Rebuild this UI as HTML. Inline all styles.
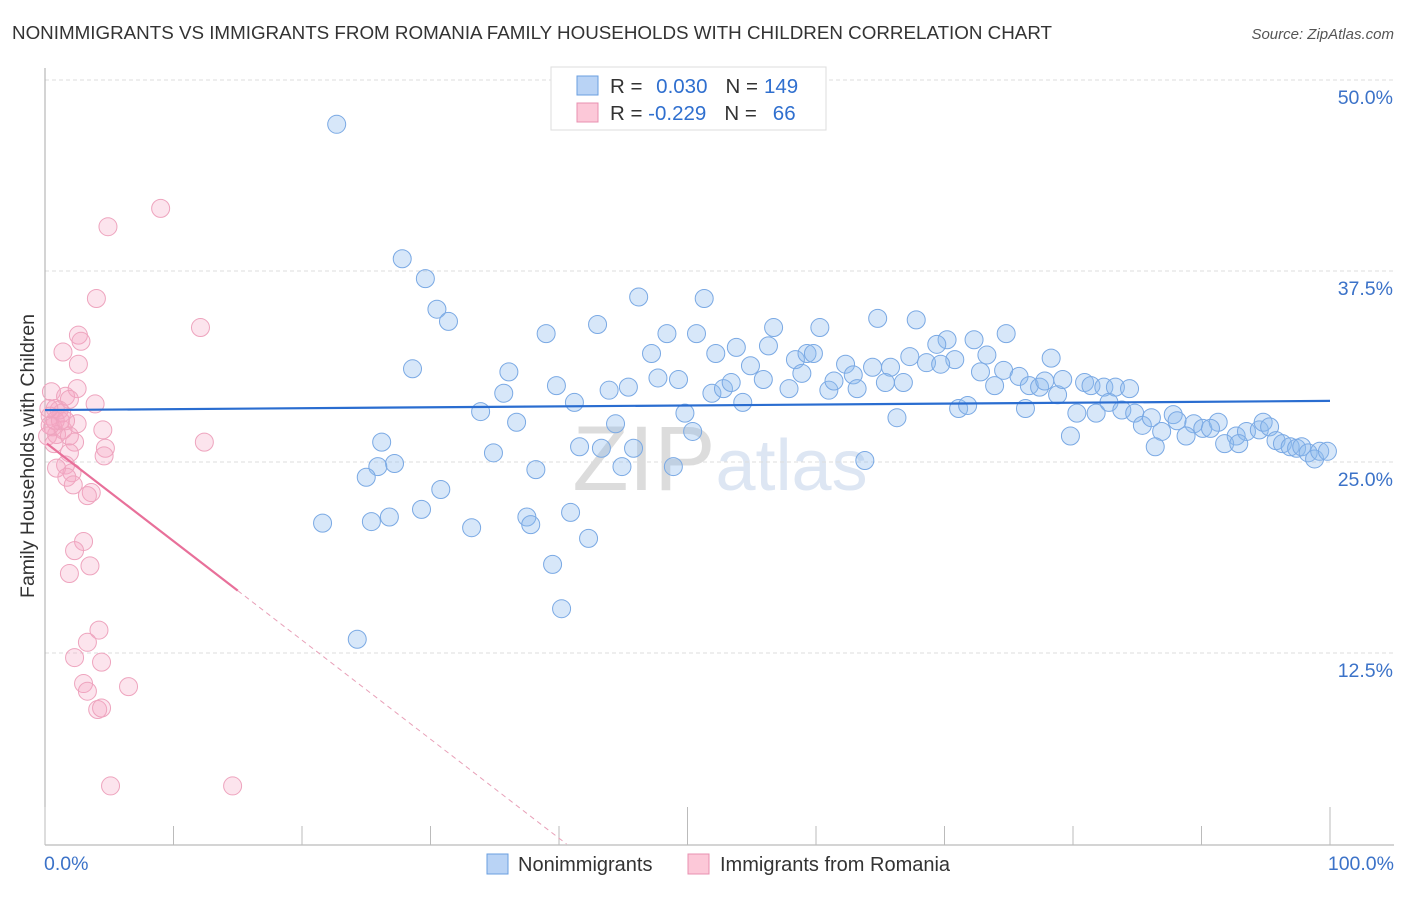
<!DOCTYPE html>
<html><head><meta charset="utf-8">
<style>
body{margin:0;background:#fff;font-family:"Liberation Sans",sans-serif;}
svg text{font-family:"Liberation Sans",sans-serif;}
</style></head>
<body>
<svg id="chart" width="1406" height="892" viewBox="0 0 1406 892" xmlns="http://www.w3.org/2000/svg">
<text x="12" y="39" font-size="18.8" fill="#333">NONIMMIGRANTS VS IMMIGRANTS FROM ROMANIA FAMILY HOUSEHOLDS WITH CHILDREN CORRELATION CHART</text>
<text x="1394" y="39" font-size="15" fill="#555" text-anchor="end" font-style="italic">Source: ZipAtlas.com</text>
<text x="720" y="490" font-size="92" fill="#e4e4e4" text-anchor="middle" font-family="Liberation Serif"><tspan fill="#dcdcdc">ZIP</tspan><tspan fill="#dde6f3" font-family="Liberation Sans" font-size="72">atlas</tspan></text>
<g id="grid"></g>
<g id="axes"></g>
<g id="blue"></g>
<g id="pink"></g>
<g id="trends"></g>
<text transform="translate(34,456) rotate(-90)" font-size="19.5" fill="#333" text-anchor="middle">Family Households with Children</text>
<g>
<rect x="551" y="67" width="275" height="63" fill="#fff" stroke="#ddd"/>
<rect x="577" y="76" width="21" height="19" fill="#b9d3f5" stroke="#6a9fe0"/>
<rect x="577" y="103" width="21" height="19" fill="#fcc8d8" stroke="#e890b0"/>
<text x="610" y="93" font-size="20.5" fill="#333">R = <tspan fill="#2f6fcf" dx="8">0.030</tspan><tspan dx="18" fill="#333">N =</tspan><tspan dx="6" fill="#2f6fcf">149</tspan></text>
<text x="610" y="120" font-size="20.5" fill="#333">R = <tspan fill="#2f6fcf">-0.229</tspan><tspan dx="18" fill="#333">N =</tspan><tspan dx="16" fill="#2f6fcf">66</tspan></text>
</g>
<g>
<rect x="487" y="854" width="21" height="20" fill="#b9d3f5" stroke="#6a9fe0"/>
<text x="518" y="871" font-size="20" fill="#333">Nonimmigrants</text>
<rect x="688" y="854" width="21" height="20" fill="#fcc8d8" stroke="#e890b0"/>
<text x="720" y="871" font-size="20" fill="#333">Immigrants from Romania</text>
</g>
</svg>
<script>
const yTicks=[12.5,25,37.5,50];
const yTickLabels=["12.5%","25.0%","37.5%","50.0%"];
const xTickLabels=["0.0%","100.0%"];
const blueX=[22.7,27.8,29.6,30.5,31.4,39.0,43.0,46.2,51.3,48.4,50.7,56.7,60.3,64.8,67.8,74.8,72.3,70.2,47.2,52.2,53.8,56.3,58.4,59.3,59.8,62.3,64.4,65.8,67.3,68.6,69.4,70.8,73.3,78.3,28.6,36.1,39.8,43.9,45.4,47.7,49.3,51.9,52.8,53.4,54.9,55.9,57.9,58.9,61.0,61.4,62.9,63.2,65.4,66.8,69.7,72.8,73.9,74.6,75.8,76.6,77.4,77.8,78.8,79.2,80.9,81.4,82.4,83.3,84.4,35.7,41.2,54.3,33.9,36.7,44.4,49.8,66.3,71.1,71.8,76.3,80.3,81.8,82.8,83.8,84.8,85.4,86.1,87.8,88.1,89.4,90.1,91.3,92.7,93.5,94.5,94.8,95.3,95.8,96.3,96.9,97.4,97.8,98.3,98.8,99.2,99.8,90.7,88.8,86.9,86.4,91.8,92.9,79.8,50.4,41.6,45.8,43.3,26.2,34.9,27.2,25.9,25.0,38.2,44.9,48.9,63.8,30.8,29.3,26.8,25.4,21.6,33.2,37.5,37.8,40.9,42.3,39.5,40.2,24.3];
const blueY=[47.1,38.3,37.0,35.0,34.2,33.4,34.0,35.8,35.7,33.4,33.4,33.8,33.8,34.4,34.3,33.4,33.0,33.0,32.1,32.1,32.5,32.6,31.7,32.1,32.1,31.4,31.2,31.2,31.9,31.5,32.7,31.7,32.0,31.8,31.1,30.9,30.0,29.7,29.9,30.5,30.4,29.5,29.8,30.2,31.3,30.4,29.8,30.8,29.7,30.3,30.7,29.8,30.2,30.2,31.4,30.9,30.0,31.0,30.6,30.0,29.9,30.3,29.4,30.4,30.2,30.0,29.9,29.9,29.8,29.5,28.9,28.9,28.3,27.6,27.5,28.2,27.9,28.5,28.7,28.5,28.2,28.2,28.9,28.4,28.2,27.4,27.9,28.1,27.7,27.5,27.2,27.6,26.7,27.0,27.1,27.6,27.3,26.4,26.2,26.0,25.9,26.0,25.6,25.2,25.7,25.7,27.2,26.7,27.0,26.0,26.2,26.2,26.7,27.0,26.0,25.9,25.9,26.3,25.6,24.9,24.7,24.0,24.5,24.7,24.7,25.1,23.2,21.9,21.4,21.1,21.0,20.7,21.4,20.9,21.7,20.0,18.3,15.4,13.4];
const pinkX=[9.0,4.9,4.0,12.1,2.6,2.8,1.4,2.6,2.5,0.5,1.6,1.9,3.9,0.8,1.1,1.3,0.4,2.5,0.6,1.4,0.9,4.5,0.2,1.9,2.3,12.4,0.7,4.7,4.6,1.9,1.6,0.9,2.1,1.7,2.2,3.6,3.3,3.0,2.3,3.5,1.9,4.2,3.3,2.3,4.4,3.0,3.3,6.5,4.1,4.4,5.1,14.6,0.8,1.2,0.4,1.6,0.3];
const pinkY=[41.6,40.4,35.7,33.8,33.3,32.9,32.2,31.4,29.8,29.6,29.3,29.1,28.8,28.5,28.4,28.2,28.0,27.5,27.3,27.1,26.8,27.1,26.7,26.7,26.3,26.3,26.2,25.9,25.4,25.6,24.8,24.6,24.3,24.0,23.5,23.0,22.8,19.8,19.2,18.2,17.7,14.0,13.2,12.2,11.9,10.5,10.0,10.3,8.8,8.9,3.8,3.8,27.7,27.7,27.4,27.7,28.5];
const blueTrend=[28.4,29.0];
const pinkTrend=[26.3,-0.648];
const pinkSolidEnd=15.0;

const NS="http://www.w3.org/2000/svg";
const X=v=>45+v*12.85, Y=v=>844-v*15.28;
function mk(t,a,p){const e=document.createElementNS(NS,t);for(const k in a)e.setAttribute(k,a[k]);p.appendChild(e);return e;}
const grid=document.getElementById('grid'),axes=document.getElementById('axes');
yTicks.forEach((t,i)=>{
 const l=mk('line',{x1:45,x2:1394,y1:Y(t),y2:Y(t),stroke:'#ddd','stroke-dasharray':'4,3'},grid);
 
 
 const tx=mk('text',{x:1393,y:Y(t)+24,'font-size':19.5,fill:'#3b72c8','text-anchor':'end'},axes);
 tx.textContent=yTickLabels[i];
 
 
});
mk('line',{x1:45,x2:45,y1:68,y2:845,stroke:'#aaa'},axes);
mk('line',{x1:45,x2:1394,y1:845,y2:845,stroke:'#aaa'},axes);
for(let i=0;i<=10;i++){const l=mk('line',{x1:X(i*10),x2:X(i*10),y1:(i%5==0?807:826),y2:845,stroke:'#bbb'},axes);
 
 }
[[0,'start',44],[100,'end',1394]].forEach((d,i)=>{const t=mk('text',{x:d[2],y:870,'font-size':19.5,fill:'#3b72c8','text-anchor':d[1]},axes);t.textContent=xTickLabels[i];
 
 });
const bg=document.getElementById('blue');
blueX.forEach((x,i)=>{const c=mk('circle',{cx:X(x),cy:Y(blueY[i]),r:9,fill:'rgba(140,185,238,0.35)',stroke:'#7aa9e4','stroke-width':1},bg);
 
 });
const pg=document.getElementById('pink');
pinkX.forEach((x,i)=>{const c=mk('circle',{cx:X(x),cy:Y(pinkY[i]),r:9,fill:'rgba(245,165,195,0.3)',stroke:'#eea4be','stroke-width':1},pg);
 
 });
const tg=document.getElementById('trends');
const bl=mk('line',{x1:X(0),y1:Y(blueTrend[0]),x2:X(100),y2:Y(blueTrend[1]),stroke:'#2a6dd0','stroke-width':2.2},tg);


const pf=x=>pinkTrend[0]+pinkTrend[1]*x;
const ps=mk('line',{x1:X(0.15),y1:Y(pf(0.15)),x2:X(pinkSolidEnd),y2:Y(pf(pinkSolidEnd)),stroke:'#e8709a','stroke-width':2.2},tg);


const x0=-pinkTrend[0]/pinkTrend[1];
const pd=mk('line',{x1:X(pinkSolidEnd),y1:Y(pf(pinkSolidEnd)),x2:X(x0),y2:Y(0),stroke:'#e8a0b8','stroke-width':1,'stroke-dasharray':'5,4'},tg);


</script>
</body></html>
